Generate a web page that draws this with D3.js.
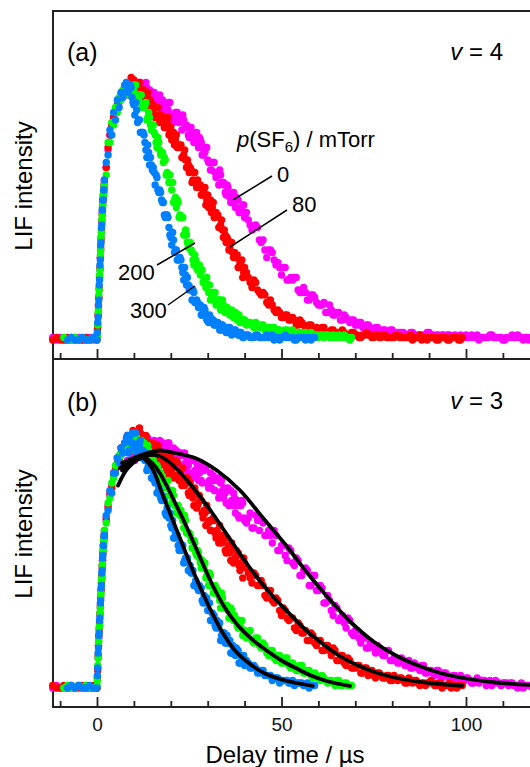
<!DOCTYPE html>
<html><head><meta charset="utf-8">
<script src="https://cdn.jsdelivr.net/npm/d3@7"></script>
<style>body{margin:0;background:#fff}svg{display:block}</style>
</head><body>
<svg id="chart" width="530" height="767"></svg>
<script>
// ---------- DATA ----------
// delay time grid of the first scan (µs)
const timeGrid = [-12,-11,-10,-9,-8,-7,-6,-5,-4,-3,-2,-1,
 0,0.1,0.2,0.3,0.4,0.5,0.6,0.7,0.8,0.9,1,1.1,1.2,1.3,1.4,1.5,1.6,1.7,1.8,1.9,2,
 2.5,3,3.5,4,4.5,5,5.5,6,6.5,7,7.5,8,8.5,9,9.5,10,10.5,11,11.5,12,12.5,13,13.5,14,14.5,15,15.5,16,16.5,17,17.5,
 18,18.5,19,19.5,20,20.5,21,21.5,22,22.5,23,23.5,24,24.5,25,25.5,26,26.5,27,27.5,28,28.5,29,29.5,30,30.5,31,31.5,32,32.5,
 33,33.5,34,34.5,35,35.5,36,36.5,37,37.5,38,38.5,39,39.5,40,
 41,42,43,44,45,46,47,48,49,50,51,52,53,54,55,56,57,58,59,60,61,62,63,64,65,66,67,68,69,70,
 71,72,73,74,75,76,77,78,79,80,81,82,83,84,85,86,87,88,89,90,91,92,93,94,95,96,97,98,99,100,
 101,102,103,104,105,106,107,108,109,110,111,112,113,114,115,116,117,118,119,120];
// delay time grid of the interleaved second scan (µs)
const timeGrid2 = [8.25,8.75,9.25,9.75,10.25,10.75,11.25,11.75,12.25,12.75,13.25,13.75,14.25,14.75,15.25,15.75,
 16.25,16.75,17.25,17.75,18.25,18.75,19.25,19.75,20.25,20.75,21.25,21.75,22.25,22.75,23.25,23.75,24.25,24.75,
 25.25,25.75,26.25,26.75,27.25,27.75,28.25,28.75,29.25,29.75,30.25,30.75,31.25,31.75,32.25,32.75,33.25,33.75,
 34.25,34.75,35.25,35.75,36.25,36.75,37.25,37.75,38.25,38.75,39.25,39.75,
 40.5,41.5,42.5,43.5,44.5,45.5,46.5,47.5,48.5,49.5,50.5,51.5,52.5,53.5,54.5,55.5,56.5,57.5,58.5,59.5,
 60.5,61.5,62.5,63.5,64.5,65.5,66.5,67.5,68.5,69.5,70.5,71.5,72.5,73.5,74.5,75.5,76.5,77.5,78.5,79.5,
 80.5,81.5,82.5,83.5,84.5,85.5,86.5,87.5,88.5,89.5,90.5,91.5,92.5,93.5,94.5,95.5,96.5,97.5,98.5,99.5,
 100.5,101.5,102.5,103.5,104.5,105.5,106.5,107.5,108.5,109.5,110.5,111.5,112.5,113.5,114.5,115.5,116.5,117.5,118.5,119.5];

const pressures = ["0","80","200","300"];           // p(SF6) / mTorr
const seriesStart = [-12,-12,-9,-8];                 // first delay time of each trace (scan 1)

// panel (a) v = 4   (LIF intensity, peak ≈ 100)
const magentaA = [1,0,1,0,0,1,0,1,0,0,1,0,
 1,2,6,10,13,17,20,25,28,33,37,41,43,47,51,54,55,58,59,62,64,
 69,76,82,86,89,91,93,95,97,98,99,
 101,98,101,104,100,101,99,103,100,101, 97,101,99,99,95,99,95,95,98,92,
 95,91,93,95,90,90,88,91,88,89, 84,88,85,85,81,85,81,81,83,77,
 80,74,76,77,72,71,68,71,67,67, 62,66,63,62,58,61,57,57,59,53, 56,51,53,54,49,
 48,44,46,40,40,33,36,32,31,26, 29,24,24,25,19,21,16,18,17,14, 14,11,14,10,11,8,10,8,8,6,
 7,5,6,5,4,5,3,4,3,4, 2,3,3,2,3,2,2,1,2,3, 2,2,1,2,2,1,2,1,1,2, 1,1,2,1,1,1,2,1,1,0, 1,1,1,2,1,1,0,1];
const magentaA2 = [102,98,101,104,100,98,102,103,99,100, 103,98,100,96,99,97,93,96,94,96,
 95,91,92,95,90,87,91,91,87,88, 90,85,86,82,85,83,79,82,79,81, 79,74,75,77,71,68,71,71,65,66,
 68,63,63,59,62,59,55,58,55,57, 56,51,52,54,
 51,46,45,45,39,36,36,35,30,29, 29,24,25,25,20,19,19,16,18,15, 14,15,11,12,10,11,8,9,7,8,
 6,7,5,6,4,5,3,4,3,4, 2,3,3,2,2,3,1,2,2,3, 2,1,2,2,1,2,1,1,2,1, 1,2,1,0,1,1,2,1,1,1, 0,1,2,1,1,0,1,1];
const redA = [0,1,0,0,1,0,1,0,0,1,0,1,
 0,4,5,10,14,17,21,25,29,33,36,40,44,48,50,53,56,57,59,61,63,
 69,77,82,86,89,92,94,96,98,99,101,
 103,100,103,99,104,101,99,103,98,99, 95,97,95,96,91,93,90,93,87,88,
 89,85,87,82,85,82,78,82,77,77, 73,74,72,72,67,68,64,67,61,62,
 62,58,59,54,58,55,51,55,49,50, 45,46,44,44,39,40,37,39,33,33, 34,29,30,25,29,
 25,21,23,19,19,15,16,12,12,9, 10,8,9,6,8,6,5,6,4,4, 5,3,3,4,2,3,3,2,3,2,
 1,2,3,2,1,2,1,2,1,1, 2,1,1,1,2,1,1,0,1,1, 1,0,1,1,0,1,1,0,1];
const redA2 = [99,103,105,101,99,103,101,98,100,100, 96,99,93,94,94,89,93,89,90,88,
 85,87,89,83,80,83,80,77,78,78, 73,76,69,70,69,63,67,63,64,61, 58,60,61,56,53,56,53,49,51,50,
 45,48,41,42,41,36,39,35,35,33, 29,31,32,27,
 27,23,24,20,18,18,14,14,11,11, 9,10,8,8,6,7,5,6,4,5, 3,5,3,4,2,3,4,2,2,3,
 2,1,2,2,1,2,1,2,1,1, 1,2,1,1,1,0,1,2,1,0, 1,1,0,1,1,0,1,1,0];
const greenA = [1,0,0,1,0,1,0,0,1,
 1,2,6,11,12,18,20,26,28,34,36,41,43,48,50,54,54,58,58,62,62,
 66,79,79,87,86,93,91,97,96,100,99,
 99,102,100,98,100,102,97,95,98,94, 94,88,91,86,86,83,79,81,76,75,
 71,72,67,63,63,63,56,53,55,50, 49,42,44,39,39,36,32,34,29,30,
 26,28,24,21,22,22,18,17,19,16, 16,12,16,12,13,12,10,12,9,11, 8,10,8,7,8,
 7,6,7,5,6,5,4,5,4,3, 4,3,4,2,3,3,2,3,2,1, 2,2,1,2,1,1,2,1,1];
const greenA2 = [102,98,100,102,98,95,98,98,93,93, 95,89,89,84,86,82,77,79,74,75,
 73,66,66,66,60,55,57,56,49,49, 49,42,42,37,39,35,30,32,28,30, 28,23,23,25,19,16,19,19,14,15,
 16,13,14,11,13,11,10,11,9,10, 10,7,8,8,
 6,7,5,6,6,4,5,5,3,4, 3,4,3,2,3,2,3,2,1,2, 2,1,2,1,1,2,1,1,0];
const blueA = [0,1,0,0,1,0,0,1,
 0,3,7,9,14,16,22,24,30,32,38,39,45,46,52,52,56,56,60,60,64,
 71,74,84,82,91,88,96,93,99,97,102,
 103,99,102,97,94,95,87,88,83,83, 79,73,75,73,68,67,66,60,60,56,
 55,49,50,45,41,43,35,36,32,33, 29,24,26,25,20,20,20,15,16,13,
 14,10,13,10,8,10,7,8,6,7, 6,4,6,5,3,4,5,2,3,4, 3,2,3,1,2,
 2,1,2,1,1,2,1,0,1,1,2,1,1,0,1,1,1,0,1];
const blueA2 = [100,101,101,95,90,92,88,83,83,82, 76,78,70,70,69,62,65,59,59,55,
 50,50,49,42,38,40,36,32,33,32, 27,29,22,22,21,16,19,15,15,13, 10,12,12,8,7,9,7,6,7,7,
 4,6,4,4,5,3,4,3,4,3, 2,3,2,1,
 2,1,1,2,1,1,1,2,1,0,1,1,1,0,1,1,0,1,1];

// panel (b) v = 3
const magentaB = [0,1,0,0,1,0,0,1,0,1,0,0,
 0,4,8,12,17,20,24,26,29,32,37,39,42,44,49,51,54,56,59,60,63,
 67,73,77,81,85,88,90,92,94,95,96,
 96,91,96,99,93,95,93,99,94,98, 92,99,96,98,93,99,93,95,99,92,
 98,91,96,98,91,93,90,95,90,93, 87,93,90,91,86,91,86,87,90,83,
 89,82,87,88,82,83,80,85,79,83, 76,82,79,80,74,80,74,75,78,70, 75,68,73,74,67,
 68,64,69,63,66,61,61,63,55,57, 53,56,50,52,45,47,47,41,45,39, 40,34,35,29,32,28,26,28,22,23,
 20,21,16,18,16,17,14,13,15,11, 12,10,11,10,8,10,8,9,6,7, 6,7,5,6,5,4,5,4,3,4,
 3,2,4,3,3,2,1,3,2,2, 2,2,1,0,2,1,1,0];
const magentaB2 = [91,96,99,93,91,99,96,93,98,99, 94,100,93,96,98,92,98,93,97,95,
 92,96,98,92,89,96,93,89,94,94, 89,94,87,89,91,84,91,85,88,86, 83,87,89,82,80,86,83,79,83,84,
 78,83,76,78,79,73,79,73,76,73, 69,73,75,68,
 66,70,64,67,67,61,63,58,61,55, 57,51,55,49,51,45,48,41,45,39, 41,34,37,31,33,27,29,24,27,21,
 23,18,20,16,18,14,16,13,15,11, 12,10,12,9,11,8,9,7,9,6, 7,5,7,4,6,4,5,3,5,3,
 4,2,3,2,3,1,3,2,2,1, 2,1,2,1,1,0,1,1];
const redB = [1,0,0,1,0,1,0,0,1,0,0,1,
 0,4,7,13,17,21,23,26,30,33,36,39,42,45,48,51,54,57,58,60,62,
 68,72,78,80,86,87,92,91,96,95,98,
 100,96,100,95,102,99,96,104,97,100, 94,99,96,98,92,95,92,97,89,91,
 93,89,91,85,92,88,85,91,85,86, 81,84,82,84,77,79,76,80,72,74,
 75,70,71,65,71,67,63,68,62,63, 58,61,59,61,54,57,54,58,50,52, 53,49,50,44,50,
 46,42,45,41,41,36,39,34,35,29, 31,27,28,23,25,22,19,22,18,19, 15,17,15,16,11,13,10,12,8,8,
 9,6,8,6,5,6,5,4,5,3, 4,4,3,2,3,3,2,2,1,2, 2,1,2,1,1,0,1,1,1];
const redB2 = [101,95,99,103,97,95,101,102,95,98, 101,95,98,92,98,94,89,95,90,94,
 94,87,90,93,87,84,90,90,83,85, 88,81,84,78,82,78,73,78,73,77, 75,68,70,73,66,63,67,67,60,62,
 65,58,61,55,60,56,51,56,51,55, 54,47,49,52,
 48,44,46,41,43,37,39,35,36,31, 32,28,28,24,26,22,23,19,21,17, 19,15,17,13,15,11,13,9,11,8,
 9,6,8,5,7,4,6,4,5,3, 5,3,4,2,4,2,3,1,2,2, 3,1,2,0,1,2,1,0,1];
const greenB = [0,1,0,0,1,0,1,0,0,
 1,3,9,12,18,19,24,25,30,32,37,38,43,44,49,50,55,55,59,59,63,
 66,74,76,82,84,89,89,93,93,96,96,
 95,99,97,96,99,101,97,95,99,96, 96,91,95,91,91,89,86,88,84,85,
 82,83,80,77,78,79,73,70,73,69, 69,64,67,62,62,59,56,58,53,54,
 50,51,48,44,46,46,41,38,41,38, 37,32,36,32,33,31,28,31,27,28, 25,27,24,21,23,
 22,19,20,17,18,14,15,12,13,10, 12,9,10,7,9,6,7,5,6,4, 5,3,3,2,3,1,2,1,1];
const greenB2 = [95,98,101,97,95,100,98,95,98,98, 94,97,91,91,91,86,89,85,86,84,
 80,82,83,77,74,77,73,70,71,71, 67,69,62,62,61,56,59,54,55,52, 48,50,50,45,41,45,41,38,40,39,
 35,38,32,33,33,28,32,28,29,27, 24,26,27,22,
 20,23,18,20,16,17,13,15,11,13, 10,12,8,9,7,9,6,7,4,5, 3,4,2,3,1,3,1,2,1];
const blueB = [0,1,0,1,0,0,1,0,
 0,5,8,14,16,21,22,27,28,34,35,40,41,46,47,52,53,57,57,61,61,
 69,71,79,78,86,86,92,90,96,94,98,
 100,94,101,98,96,102,94,97,94,95, 91,87,89,89,84,83,83,78,79,75,
 75,70,72,68,65,67,60,61,57,58, 55,50,52,52,47,46,47,41,42,39,
 39,35,37,34,31,34,27,29,25,27, 24,19,22,22,18,18,19,14,16,13, 14,10,13,11,9,
 10,8,8,6,7,5,5,4,4,3,3,2,3,2,2,1,2,1,1];
const blueB2 = [101,95,98,102,97,94,98,99,92,92, 94,88,89,84,86,82,78,80,76,77,
 75,69,69,70,64,60,62,61,55,56, 57,51,52,47,49,46,41,43,40,41, 40,34,35,36,31,27,30,29,24,25,
 26,21,22,18,21,18,14,17,14,16, 15,10,11,13,
 11,8,9,6,7,5,5,3,4,2,3,3,2,1,2,2,1,0,1];

// fitted curves, panel (b): [delay time, intensity]
const fitMagentaB = [[6.8,90],[11.7,93],[17.1,95],[21.1,94],[26.6,92],[32.5,87],[38.8,79],[45,68],[51,57.5],[57,46],[63,35.5],[69,26],[75,18.5],[81,13],[87,9],[93,6],[100,3.8],[108,2.2],[120,1]];
const fitRedB = [[6.2,88],[10.3,92],[13,93],[16.5,93],[19,91],[22,87],[25,82],[28,76.5],[31,70.5],[34,64],[37,57.5],[40,51],[43,45],[46,39.5],[49,34.5],[52,30],[56,24],[60,19],[65,13.5],[70,9.5],[76,6],[83,3.5],[90,2],[99,0.9]];
const fitGreenB = [[6.8,87],[10.3,91],[13,92],[15,90],[17,86],[19.2,80],[21.5,73],[23.8,66],[27.4,54],[31.2,41.5],[34.7,32],[38.2,25],[42,19.5],[45.5,15.5],[50,11],[54.5,7.5],[58,5],[61.8,3],[65,1.8],[68.6,0.8]];
const fitBlueB = [[5.7,81],[8.4,88],[12.2,92],[14.9,88],[17.6,78],[20.3,68],[23,58],[25.7,48],[28.5,38.5],[31.2,30],[33.9,22.5],[37.4,15],[42,9],[45.5,5.8],[50,3.4],[54,2],[58.5,0.8]];

const majorTicks = [0,50,100];
const minorTicks = [-10,10,20,30,40,60,70,80,90,110];

// ---------- DRAWING ----------
const colors = ["#ff00ff","#ff0000","#00ff00","#0080ff"];
const FONT = "'Liberation Sans', Arial, Helvetica, sans-serif";
const svg = d3.select("#chart");
const x = d3.scaleLinear().domain([0,100]).range([97,466]);
const panels = [
  {y: d3.scaleLinear().domain([0,100]).range([340,90]), bottom:359,
   scan1:[magentaA,redA,greenA,blueA], scan2:[magentaA2,redA2,greenA2,blueA2], fits:null,
   tag:"(a)", v:"4", tagY:61, vY:60, labelY:186, tickLabels:false},
  {y: d3.scaleLinear().domain([0,100]).range([688,438]), bottom:707,
   scan1:[magentaB,redB,greenB,blueB], scan2:[magentaB2,redB2,greenB2,blueB2], fits:[fitMagentaB,fitRedB,fitGreenB,fitBlueB],
   tag:"(b)", v:"3", tagY:411, vY:409, labelY:534, tickLabels:true}
];

// frame
svg.append("path").attr("d","M53,11H531M53,10V708M53,359H531M53,707H531")
  .attr("stroke","#222").attr("stroke-width",2).attr("fill","none");

panels.forEach(p => {
  const gA = svg.append("g").attr("transform",`translate(0,${p.bottom})`);
  gA.call(d3.axisBottom(x).tickValues(majorTicks).tickSize(-10).tickSizeOuter(0).tickPadding(11)
      .tickFormat(p.tickLabels ? d3.format("d") : ""));
  gA.append("g").call(d3.axisBottom(x).tickValues(minorTicks).tickSize(-6).tickSizeOuter(0).tickFormat(""));
  gA.selectAll(".domain").remove();
  gA.selectAll("line").attr("stroke","#222").attr("stroke-width",1.8);
  gA.selectAll("text").attr("font-family",FONT).attr("font-size",19).attr("fill","#111");

  p.scan1.forEach((vals,si) => {
    const i0 = timeGrid.indexOf(seriesStart[si]);
    const pts = vals.map((v,i)=>({t:timeGrid[i0+i], v}))
      .concat(p.scan2[si].map((v,i)=>({t:timeGrid2[i], v})))
      .filter(d=>d.t!==undefined);
    svg.append("g").selectAll("circle").data(pts).join("circle")
      .attr("cx",d=>x(d.t)).attr("cy",d=>p.y(d.v)).attr("r",3.7).attr("fill",colors[si]);
  });
  if (p.fits) {
    const line = d3.line().x(d=>x(d[0])).y(d=>p.y(d[1])).curve(d3.curveCatmullRom.alpha(0.5));
    p.fits.forEach(f => svg.append("path").attr("d",line(f)).attr("fill","none")
      .attr("stroke","#000").attr("stroke-width",3.8).attr("stroke-linecap","round"));
  }
  svg.append("text").attr("x",67).attr("y",p.tagY).attr("font-family",FONT).attr("font-size",25).text(p.tag);
  const vt = svg.append("text").attr("x",503).attr("y",p.vY).attr("text-anchor","end")
     .attr("font-family",FONT).attr("font-size",24);
  vt.append("tspan").attr("font-style","italic").text("v");
  vt.append("tspan").text(" = " + p.v);
  svg.append("text").attr("transform",`translate(32,${p.labelY}) rotate(-90)`).attr("text-anchor","middle")
     .attr("font-family",FONT).attr("font-size",24).text("LIF intensity");
});

// pressure legend (panel a)
const lg = svg.append("text").attr("x",237).attr("y",147).attr("font-family",FONT).attr("font-size",22);
lg.append("tspan").attr("font-style","italic").text("p");
lg.append("tspan").text("(SF");
lg.append("tspan").attr("font-size",15).attr("dy",5).text("6");
lg.append("tspan").attr("dy",-5).text(") / mTorr");

const labelPos = [[277,182],[292,212],[118,280],[130,318]];
const leaders = [[233,200,272,176],[230,247,287,210],[157,265,195,243],[168,305,195,286]];
pressures.forEach((lab,i)=>{
  svg.append("text").attr("x",labelPos[i][0]).attr("y",labelPos[i][1]).attr("font-family",FONT)
     .attr("font-size",22).text(lab);
  const l = leaders[i];
  svg.append("line").attr("x1",l[0]).attr("y1",l[1]).attr("x2",l[2]).attr("y2",l[3])
     .attr("stroke","#000").attr("stroke-width",1.5);
});

svg.append("text").attr("x",285).attr("y",763).attr("text-anchor","middle").attr("font-family",FONT)
  .attr("font-size",24).text("Delay time / µs");
</script>
</body></html>
